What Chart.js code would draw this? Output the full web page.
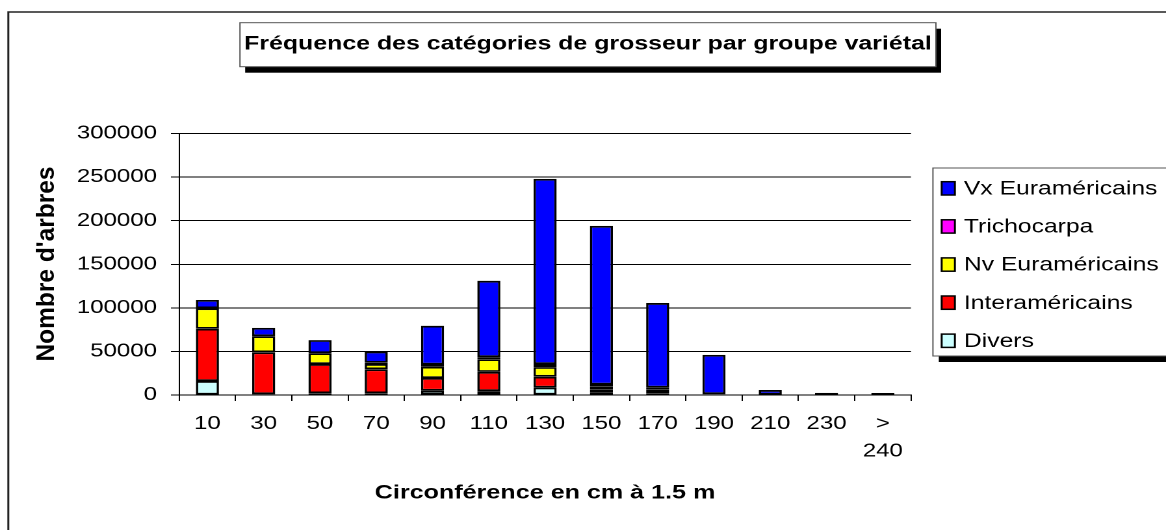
<!DOCTYPE html>
<html>
<head>
<meta charset="utf-8">
<script src="https://cdn.jsdelivr.net/npm/chart.js@4/dist/chart.umd.min.js"></script>
<style>
  html, body { margin: 0; padding: 0; background: #fff; }
</style>
</head>
<body>
<canvas id="c" width="897" height="530" style="display:block;width:1166px;height:530px"></canvas>
<script>
// data (bottom of the stack first)
const categories = ['10', '30', '50', '70', '90', '110', '130', '150', '170', '190', '210', '230', ['>', '240']];
const divers      = [16000, 1000, 2000, 2000, 5000, 4500, 8500, 2500, 1500, 300, 0, 0, 0];
const interam     = [60000, 48000, 33500, 27500, 14500, 22000, 12500, 3500, 2500, 500, 0, 0, 0];
const nvEuram     = [23500, 18500, 12500, 6000, 13000, 14500, 11000, 3500, 2000, 300, 0, 0, 0];
const trichocarpa = [0, 0, 0, 1500, 2500, 2500, 3500, 2500, 2500, 0, 0, 0, 0];
const vxEuram     = [9500, 9500, 15000, 12800, 44500, 87500, 212500, 182000, 97000, 45000, 5700, 2500, 2300];

const chartTitle = 'Fréquence des catégories de grosseur par groupe variétal';
const xTitle = 'Circonférence en cm à 1.5 m';
const yTitle = "Nombre d'arbres";

const FONT = "'Liberation Sans', Arial, sans-serif";

const series = [
  { label: 'Divers', data: divers, color: '#CCFFFF' },
  { label: 'Interaméricains', data: interam, color: '#FF0000' },
  { label: 'Nv Euraméricains', data: nvEuram, color: '#FFFF00' },
  { label: 'Trichocarpa', data: trichocarpa, color: '#FF00FF' },
  { label: 'Vx Euraméricains', data: vxEuram, color: '#0000FF' }
];

// draws text centred on (x, y), squeezed or widened to width w
function fitText(ctx, text, x, y, w, font, rot) {
  ctx.save();
  ctx.font = font;
  ctx.translate(x, y);
  if (rot) ctx.rotate(rot);
  const m = ctx.measureText(text).width;
  ctx.scale(w / m, 1);
  ctx.textAlign = 'center';
  ctx.textBaseline = 'middle';
  ctx.fillStyle = '#000';
  ctx.fillText(text, 0, 0);
  ctx.restore();
}

const decor = {
  id: 'decor',
  afterDraw(chart) {
    const ctx = chart.ctx;
    ctx.save();
    // outer frame
    ctx.strokeStyle = '#222';
    ctx.lineWidth = 1.5;
    ctx.strokeRect(6.4, 12, 1000, 1000);

    // title box with shadow
    ctx.fillStyle = '#000';
    ctx.fillRect(184.6 + 4, 22.7 + 6, 535.4, 44);
    ctx.fillStyle = '#fff';
    ctx.fillRect(184.6, 22.7, 535.4, 44);
    ctx.strokeStyle = '#555';
    ctx.lineWidth = 1;
    ctx.strokeRect(184.6, 22.7, 535.4, 44);
    fitText(ctx, chartTitle, 452.3, 44.2, 529, `bold 19.5px ${FONT}`);

    // axis titles
    fitText(ctx, xTitle, 419.3, 493, 262, `bold 19.5px ${FONT}`);
    fitText(ctx, yTitle, 35.9, 264, 195, `bold 19.5px ${FONT}`, -Math.PI / 2);

    // legend box with shadow
    ctx.fillStyle = '#000';
    ctx.fillRect(717.7 + 4.5, 168 + 6, 300, 188);
    ctx.fillStyle = '#fff';
    ctx.fillRect(717.7, 168, 300, 188);
    ctx.strokeStyle = '#555';
    ctx.strokeRect(717.7, 168, 300, 188);

    const legendItems = series.slice().reverse();
    ctx.font = `19px ${FONT}`;
    ctx.textBaseline = 'middle';
    ctx.textAlign = 'left';
    legendItems.forEach((s, i) => {
      const cy = 188.3 + i * 38.1;
      ctx.fillStyle = s.color;
      ctx.fillRect(724.4, cy - 6.6, 10.2, 13.3);
      ctx.strokeStyle = '#000';
      ctx.lineWidth = 1.5;
      ctx.strokeRect(724.4, cy - 6.6, 10.2, 13.3);
      ctx.fillStyle = '#000';
      ctx.fillText(s.label, 741.5, cy + 1);
    });
    ctx.restore();
  }
};

new Chart(document.getElementById('c'), {
  type: 'bar',
  data: {
    labels: categories,
    datasets: series.map(s => ({
      label: s.label,
      data: s.data,
      backgroundColor: s.color,
      borderColor: '#000',
      borderWidth: 1.8,
      borderSkipped: false,
      barPercentage: 0.41,
      categoryPercentage: 1
    }))
  },
  options: {
    responsive: false,
    devicePixelRatio: 2,
    animation: false,
    layout: { padding: { top: 133.5, left: 0, right: 196.2, bottom: 0 } },
    plugins: { legend: { display: false }, title: { display: false }, tooltip: { enabled: false } },
    scales: {
      x: {
        stacked: true,
        offset: true,
        afterFit: s => { s.height = 135; },
        grid: { offset: true, drawOnChartArea: false, color: '#000', tickLength: 6 },
        border: { color: '#000', width: 1 },
        ticks: { color: '#000', padding: 9, maxRotation: 0, autoSkip: false,
                 font: { family: FONT, size: 18.5, lineHeight: 1.5 } }
      },
      y: {
        stacked: true,
        min: 0, max: 300000,
        afterFit: s => { s.width = 137.9; },
        grid: { color: '#000', tickLength: 6.4 },
        border: { color: '#000', width: 1 },
        ticks: { stepSize: 50000, color: '#000', padding: 10.7,
                 callback: v => String(v),
                 font: { family: FONT, size: 18.5 } }
      }
    }
  },
  plugins: [decor]
});
</script>
</body>
</html>
